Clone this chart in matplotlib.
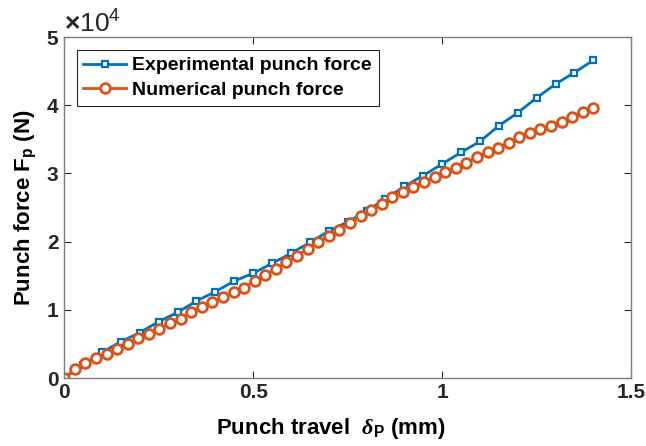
import matplotlib.pyplot as plt
import numpy as np
from matplotlib.ticker import ScalarFormatter

plt.rcParams['font.family'] = ['Liberation Sans', 'DejaVu Sans']
plt.rcParams['font.weight'] = 'bold'
plt.rcParams['mathtext.fontset'] = 'custom'
plt.rcParams['mathtext.rm'] = 'Liberation Sans:bold'
plt.rcParams['mathtext.bf'] = 'Liberation Sans:bold'
plt.rcParams['mathtext.it'] = 'Liberation Serif:italic'

# experimental curve, sampled every 0.05 mm
exp_travel = np.arange(29) * 0.05
exp_force = [0, 0.20, 0.38, 0.536, 0.668, 0.829, 0.965, 1.132, 1.268, 1.425,
             1.537, 1.684, 1.83, 1.99, 2.157, 2.29, 2.45, 2.63, 2.81, 2.97,
             3.14, 3.31, 3.47, 3.70, 3.89, 4.11, 4.31, 4.48, 4.66]

# numerical curve, 51 samples over 0..1.4 mm
num_travel = np.linspace(0, 1.4, 51)
num_force = [0, 0.13, 0.22, 0.293, 0.356, 0.429, 0.498, 0.586, 0.649, 0.717,
             0.805, 0.87, 0.975, 1.04, 1.113, 1.195, 1.259, 1.327, 1.42, 1.51,
             1.60, 1.70, 1.79, 1.90, 2.00, 2.08, 2.17, 2.28, 2.37, 2.46,
             2.56, 2.65, 2.725, 2.80, 2.87, 2.945, 3.02, 3.085, 3.16, 3.245,
             3.31, 3.38, 3.45, 3.53, 3.59, 3.645, 3.695, 3.76, 3.83, 3.90,
             3.967]

blue = '#0072BD'
orange = '#D95319'

fig = plt.figure(figsize=(6.46, 4.46), dpi=100)
ax = fig.add_axes([0.0994, 0.152, 0.8776, 0.765])

ax.plot(exp_travel, np.array(exp_force) * 1e4, '-s', color=blue, lw=2.0,
        ms=5, mew=1.6, mfc='white', label='Experimental punch force')
ax.plot(num_travel, np.array(num_force) * 1e4, '-o', color=orange, lw=2.0,
        ms=7, mew=2.0, mfc='white', label='Numerical punch force')

ax.set_xlim(0, 1.5)
ax.set_ylim(0, 5e4)
ax.set_xticks([0, 0.5, 1, 1.5])
ax.set_xticklabels(['0', '0.5', '1', '1.5'])
ax.set_yticks(np.arange(0, 5.01, 1) * 1e4)

fmt = ScalarFormatter(useMathText=True)
fmt.set_powerlimits((0, 0))
ax.yaxis.set_major_formatter(fmt)
ax.yaxis.get_offset_text().set_fontsize(19)
ax.yaxis.get_offset_text().set_fontweight('normal')

ax.tick_params(direction='in', top=True, right=True, labelsize=15,
               length=5, width=0.8, colors='#262626')
for side in ax.spines.values():
    side.set_color('#7f7f7f')
    side.set_linewidth(1.0)

ax.set_xlabel(r'Punch travel  $\delta_{\mathbf{P}}$ (mm)', fontsize=16,
              fontweight='bold')
ax.xaxis.set_label_coords(0.47, -0.11)
ax.set_ylabel(r'Punch force F$_{\mathbf{p}}$ (N)', fontsize=16,
              fontweight='bold', labelpad=6)

leg = ax.legend(loc='upper left', bbox_to_anchor=(0.022, 0.962),
                borderaxespad=0, fontsize=14, fancybox=False,
                edgecolor='#262626', framealpha=1, handlelength=2.2,
                handletextpad=0.3, borderpad=0.35, labelspacing=0.35)
leg.get_frame().set_linewidth(0.8)

fig.savefig('out.png', dpi=100)
